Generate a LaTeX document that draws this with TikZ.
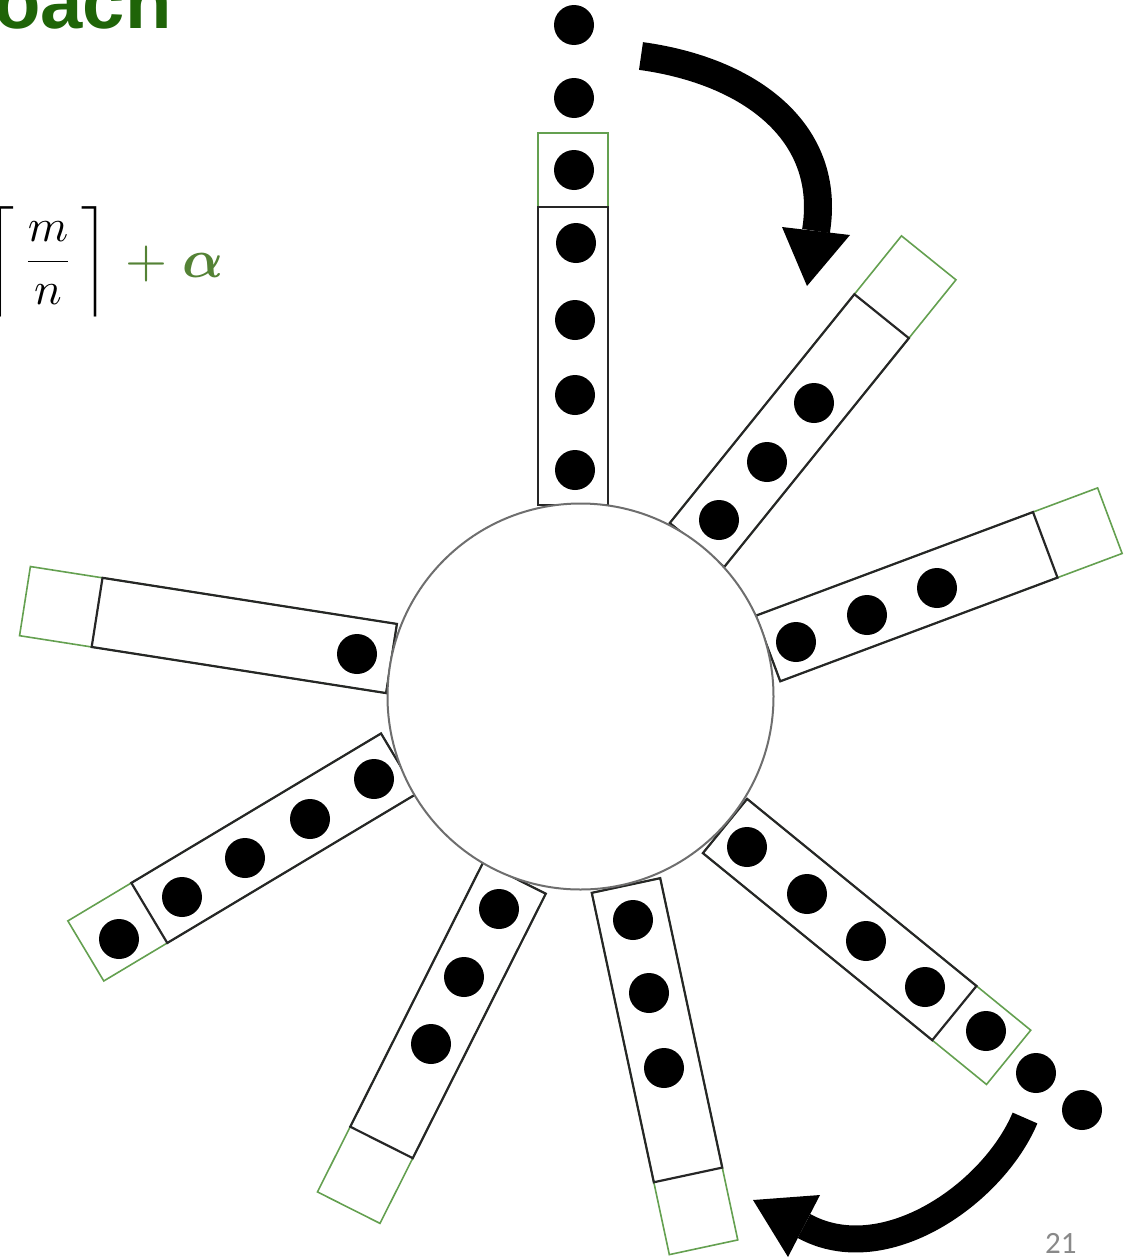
\documentclass[tikz,border=0pt]{standalone}
\usepackage{amsmath}
\usepackage{fontspec}
\newfontfamily\titlefont{Liberation Sans}
\newfontfamily\numfont{Carlito}
\usetikzlibrary{calc}
\definecolor{titlegreen}{RGB}{31,100,8}
\definecolor{mathgreen}{RGB}{84,130,53}
\definecolor{boxgreen}{RGB}{100,160,80}
\definecolor{hubgray}{RGB}{110,110,110}
\definecolor{numgray}{RGB}{137,137,137}
\tikzset{
  greenbox/.style={draw=boxgreen, line width=1.6pt, line join=miter},
  blackbox/.style={draw=black!85, line width=2.2pt, line join=miter},
  ball/.style={fill=black},
  bigarrow/.style={draw=black, line width=28pt, line cap=butt},
  arrowhead/.style={fill=black},
}
\begin{document}
\begin{tikzpicture}[x=1pt,y=-1pt]
\useasboundingbox (0,0) rectangle (1140,1258);
\clip (0,0) rectangle (1140,1258);

% title fragment
\node[anchor=base west, inner sep=0, text=titlegreen] (title) at (-6,28)
  {\titlefont\bfseries\fontsize{76}{80}\selectfont oach};

% formula
\node[scale=4.6, inner sep=0] (frac) at (48,261.5)
  {$\displaystyle\biggl\lceil\,\frac{m}{n}\,\biggr\rceil$};
\node[scale=5.4, inner sep=0, anchor=base west, text=mathgreen] (plusalpha) at (124,277)
  {$+\;\boldsymbol{\alpha}$};

% rays (green slot boxes + black buffers)
\foreach \px/\py/\a/\l/\g [count=\i] in {
  573/505/-90/298/74,
  697/545/-51.1/294/75,
  768/648.5/-20.5/296/69,
  725/826/39.2/296/70,
  626/885.5/77.9/296/74,
  514.5/878/116.7/296/73,
  399/763.5/149.1/291/74,
  391.5/658.5/188.9/298/73} {
  \coordinate (r\i) at (\px,\py);
  \draw[greenbox] ($(r\i)+(\a+90:35)$) -- ++(\a:\l+\g) -- ++(\a-90:70) -- ++(\a+180:\l+\g) -- cycle;
  \draw[blackbox] ($(r\i)+(\a+90:35)$) -- ++(\a:\l) -- ++(\a-90:70) -- ++(\a+180:\l) -- cycle;
}

% hub
\node[circle, draw=hubgray, fill=white, line width=2pt, minimum size=386pt, inner sep=0] (hub) at (580.5,696.5) {};

% balls
\foreach \bx/\by in {
  575/470, 575/395, 575/320, 576/243, 574/170, 574/98, 574/25,
  719/520, 767/462, 814/403,
  796/642, 867/615, 937/588,
  747/847, 807/894, 866/941, 925/987, 986/1031, 1036/1073, 1082/1110,
  633/920, 649/993, 664/1068,
  499/909, 464/977, 431/1044,
  374/779, 310/819, 245/858, 182/897, 119/939,
  357/654} {
  \fill[ball] (\bx,\by) circle (20pt);
}

% top curved arrow
\coordinate (a1s) at (641,56);
\coordinate (a1e) at (816,231);
\draw[bigarrow] (a1s) .. controls (750,71) and (832,132) .. (a1e);
\fill[arrowhead] (782,227) -- (850,235) -- (807,286) -- cycle;

% bottom curved arrow
\coordinate (a2s) at (1025,1118);
\coordinate (a2e) at (804,1226);
\draw[bigarrow, line width=27pt] (a2s) .. controls (993,1194) and (884,1270) .. (a2e);
\fill[arrowhead] (820,1195) -- (788,1257) -- (753,1200) -- cycle;

% page number
\node[anchor=base west, inner sep=0, text=numgray] (pnum) at (1045,1253)
  {\numfont\fontsize{31}{34}\selectfont 21};
\end{tikzpicture}
\end{document}
